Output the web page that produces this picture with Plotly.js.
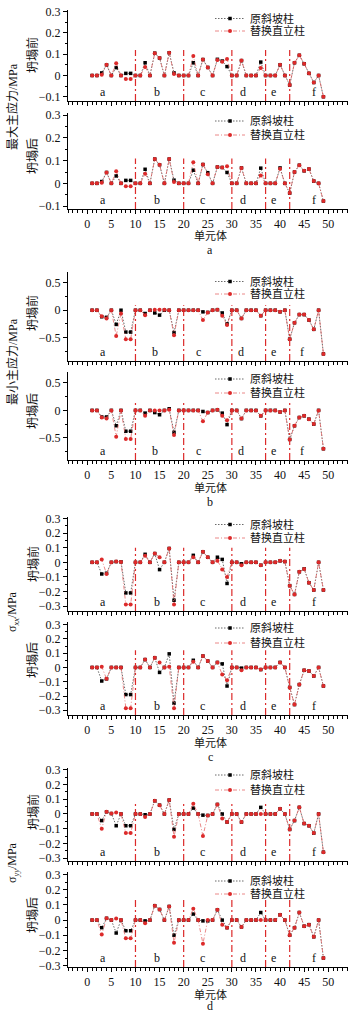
<!DOCTYPE html>
<html><head><meta charset="utf-8">
<script src="https://cdn.plot.ly/plotly-3.0.1.min.js"></script>
<style>html,body{margin:0;padding:0;background:#fff;}#chart{width:356px;height:1013px;}</style>
</head><body><div id="chart"></div>
<script>
// ---------- data ----------
const unitIds = [1,2,3,4,5,6,7,8,9,10,11,12,13,14,15,16,17,18,19,20,21,22,23,24,25,26,27,28,29,30,31,32,33,34,35,36,37,38,39,40,41,42,43,44,45,46,47,48,49];
const seriesNames = ['原斜坡柱', '替换直立柱'];
const segmentBounds = [10, 20, 30, 37, 42];
const segmentLabels = ['a', 'b', 'c', 'd', 'e', 'f'];
const stateLabels = ['坍塌前', '坍塌后'];
const groupTitles = ['最大主应力/MPa', '最小主应力/MPa', 'σ<sub><i>xx</i></sub>/MPa', 'σ<sub><i>yy</i></sub>/MPa'];
const groupCaptions = ['a', 'b', 'c', 'd'];
const xTitle = '单元体';

// (a) maximum principal stress
const maxBeforeOrig = [0,0,0.012,0.05,0,0.037,0,0.01,0.01,0, 0,0.06,0,0.105,0.082,0,0.107,0.012,0,0, 0,0.06,0,0.075,0.038,0,0.076,0.068,0.042,0, 0,0.07,0,0,0,0.063,0,0,0,0.05, 0,-0.045,0.06,0.095,0.055,0.01,-0.033,0,-0.1];
const maxBeforeRepl = [0,0,0.003,0.05,0,0.057,0,-0.017,-0.017,0, 0,0.04,0,0.105,0.082,0,0.107,0.007,0,0, 0,0.092,0,0.075,0.038,0,0.073,0.065,0.078,0, 0,0.07,0,0,0,0.035,0,0,0,0.05, 0,-0.045,0.06,0.095,0.055,0.01,-0.033,0,-0.1];
const maxAfterOrig = [0,0,0.008,0.048,0,0.033,0,0.013,0.013,0, 0,0.062,0,0.107,0.082,0,0.107,0.014,0,0, 0,0.058,0,0.083,0.047,0,0.072,0.07,0.048,0, 0,0.068,0,0,0,0.067,0,0,0,0.068, 0,-0.043,0.05,0.08,0.055,0.063,0.01,0,-0.078];
const maxAfterRepl = [0,0,0.003,0.048,0,0.053,0,-0.013,-0.013,0, 0,0.042,0,0.107,0.082,0,0.107,0.006,0,0, 0,0.093,0,0.083,0.04,0,0.072,0.07,0.075,0, 0,0.068,0,0,0,0.035,0,0,0,0.064, 0,-0.043,0.05,0.08,0.055,0.063,0.01,0,-0.078];
// (b) minimum principal stress
const minBeforeOrig = [0,0,-0.12,-0.13,0,-0.26,0,-0.4,-0.4,0, 0,-0.06,0,-0.05,-0.09,0,0,-0.41,0,0, 0,0,0,-0.03,-0.04,0,0.01,-0.05,-0.25,0, 0,-0.15,0,0,0,-0.1,0,0,0,-0.03, 0,-0.53,-0.23,-0.08,-0.08,-0.18,-0.35,0,-0.8];
const minBeforeRepl = [0,0,-0.11,-0.15,0,-0.47,-0.06,-0.53,-0.53,0, 0,-0.09,0,0.01,0.01,0.01,0,-0.46,0,0, 0,0,0,-0.18,-0.04,0,0.01,-0.1,-0.27,0, 0,-0.15,0,0,0,-0.1,0,0,0,-0.03, 0,-0.53,-0.23,-0.08,-0.08,-0.18,-0.35,0,-0.8];
const minAfterOrig = [0,0,-0.12,-0.12,0,-0.28,0,-0.38,-0.38,0, 0,-0.05,0,-0.04,-0.08,0,0.03,-0.4,0,0, 0,0,0,-0.02,-0.04,0,0.01,-0.05,-0.26,0, 0,-0.15,0,0,0,-0.1,0,0,0,-0.03, 0,-0.53,-0.28,-0.13,-0.1,-0.16,-0.25,0,-0.7];
const minAfterRepl = [0,0,-0.13,-0.15,0,-0.48,0,-0.52,-0.52,0, 0,-0.1,0,0,0,0,0.01,-0.45,0,0, 0,0,0,-0.2,-0.04,0,0.01,-0.1,-0.18,0, 0,-0.15,0,0,0,-0.1,0,0,0,-0.03, 0,-0.53,-0.28,-0.13,-0.1,-0.16,-0.25,0,-0.7];
// (c) sigma_xx
const sxxBeforeOrig = [0,0,-0.08,-0.075,0,0.005,0.003,-0.21,-0.21,0, 0,0.055,0,0.06,-0.05,0,0.095,-0.26,0,0, 0,0.048,0,0.072,0.035,0,0.035,0.02,-0.145,0, 0,-0.01,0,0,0,-0.02,0,0,0,0.01, 0.005,-0.16,-0.22,-0.065,-0.045,-0.14,-0.19,0,-0.19];
const sxxBeforeRepl = [0,0,0.02,-0.08,0,0.005,0.003,-0.29,-0.29,0, 0,0.045,0,0.06,0.035,0,0.095,-0.29,0,0, 0,0.035,0,0.072,0.035,0,0.01,-0.05,-0.1,0, 0,-0.02,0,0,0,-0.02,0,0,0,0.01, 0.005,-0.16,-0.22,-0.065,-0.045,-0.14,-0.19,0,-0.19];
const sxxAfterOrig = [0,0,-0.095,-0.08,0,0,0,-0.19,-0.19,0, 0,0.055,0,0.068,-0.035,0,0.095,-0.25,0,0, 0,0.05,0,0.08,0.045,0,0.035,0.025,-0.13,0, 0,-0.005,0,0,0,-0.015,0,0,0,0.035, 0,-0.14,-0.26,-0.12,-0.02,-0.025,-0.06,0,-0.13];
const sxxAfterRepl = [0,0,0.005,-0.08,0,0,0,-0.285,-0.285,0, 0,0.055,0,0.068,0.035,0,0.005,-0.285,0,0, 0,0.04,0,0.08,0.045,0,0.035,-0.05,-0.09,0, 0,-0.02,0,0,0,-0.015,0,0,0,0.035, 0,-0.14,-0.26,-0.12,-0.02,-0.025,-0.06,0,-0.13];
// (d) sigma_yy
const syyBeforeOrig = [0,0,-0.045,0.015,0.003,-0.08,0,-0.08,-0.08,0, 0,-0.005,0,0.09,0.06,0,0.095,-0.105,0,0, 0,0.04,0,-0.008,-0.01,0,0.065,0,-0.055,0, 0,-0.055,0,0,0,0.045,0,0,0,0.035, 0,-0.105,-0.045,0.045,-0.065,-0.08,-0.13,0,-0.26];
const syyBeforeRepl = [0,0,-0.1,0.015,0.003,0.01,0,-0.13,-0.13,0, 0,-0.02,0,0.09,0.06,0,0.095,-0.155,0,0, 0,0.07,0,-0.15,-0.01,0,0.065,-0.03,-0.055,0, 0,-0.055,0,0,0,0,0,0,0,0.035, 0,-0.105,-0.045,0.045,-0.065,-0.08,-0.13,0,-0.26];
const syyAfterOrig = [0,0,-0.05,0.012,0,-0.085,0,-0.07,-0.07,0, 0,-0.005,0,0.095,0.07,0,0.09,-0.1,0,0, 0,0.04,0,-0.005,-0.005,0,0.068,0,-0.05,0, 0,-0.045,0,0,0,0.05,0,0,0,0.035, 0,-0.1,-0.05,0.05,-0.04,-0.03,-0.11,0,-0.25];
const syyAfterRepl = [0,0,-0.095,0.012,0,0.01,0,-0.12,-0.12,0, 0,-0.02,0,0.095,0.07,0,0.09,-0.15,0,0, 0,0.075,0,-0.155,0,0,0.068,-0.03,-0.05,0, 0,-0.045,0,0,0,0,0,0,0,0.035, 0,-0.1,-0.05,0.05,-0.04,-0.03,-0.11,0,-0.25];

// ---------- layout geometry (pixels) ----------
const H = 1013, W = 356, ML = 68, MR = 8, PW = W - ML - MR;
const py = p => 1 - p / H;           // pixel row -> paper y
const pxX = p => (p - ML) / PW;      // pixel col -> paper x

const panels = [
  {orig: maxBeforeOrig, repl: maxBeforeRepl, top: 10,  bot: 101, range: [-0.12, 0.308], dt: 0.1, mdt: 0.05, vtop: 0.12, leg: [18.5, 31]},
  {orig: maxAfterOrig,  repl: maxAfterRepl,  top: 113, bot: 209, range: [-0.113, 0.31], dt: 0.1, mdt: 0.05, vtop: 0.11, leg: [121, 135]},
  {orig: minBeforeOrig, repl: minBeforeRepl, top: 272, bot: 361, range: [-0.93, 0.70], dt: 0.5, mdt: 0.25, vtop: 0.09, leg: [281.5, 294]},
  {orig: minAfterOrig,  repl: minAfterRepl,  top: 372, bot: 460, range: [-0.905, 0.70], dt: 0.5, mdt: 0.25, vtop: 0.18, leg: [379, 393]},
  {orig: sxxBeforeOrig, repl: sxxBeforeRepl, top: 517, bot: 611, range: [-0.334, 0.311], dt: 0.1, mdt: 0.05, vtop: 0.10, leg: [524.5, 538]},
  {orig: sxxAfterOrig,  repl: sxxAfterRepl,  top: 622, bot: 715, range: [-0.333, 0.318], dt: 0.1, mdt: 0.05, vtop: 0.12, leg: [628, 643]},
  {orig: syyBeforeOrig, repl: syyBeforeRepl, top: 768, bot: 861, range: [-0.32, 0.313], dt: 0.1, mdt: 0.05, vtop: 0.085, leg: [775, 790]},
  {orig: syyAfterOrig,  repl: syyAfterRepl,  top: 872, bot: 967, range: [-0.309, 0.317], dt: 0.1, mdt: 0.05, vtop: 0.135, leg: [881, 894]}
];
const groups = [
  {titleY: 107, capY: [236, 250], subY: [55, 156], letterX: [3.3, 14.5, 24, 32.3, 38.6, 47]},
  {titleY: 362, capY: [488, 502], subY: [313, 411], letterX: [3.2, 14.1, 23, 32, 38.7, 44.6]},
  {titleY: 612, capY: [742, 757], subY: [564, 660], letterX: [3.3, 14.5, 24, 32.3, 38.6, 47]},
  {titleY: 863, capY: [994, 1006], subY: [812, 915], letterX: [3.3, 14.5, 24, 32.3, 38.6, 47]}
];

const SERIF = 'Liberation Serif, Noto Sans CJK SC, serif';
const CJK = 'Liberation Serif, Noto Sans CJK SC, sans-serif';
const RED = '#dc2a2a';

const traces = [], shapes = [], annotations = [];
const layout = {
  width: W, height: H, margin: {l: ML, r: MR, t: 0, b: 0, pad: 0},
  paper_bgcolor: '#fff', plot_bgcolor: 'rgba(0,0,0,0)',
  font: {family: SERIF, size: 12, color: '#111'},
  showlegend: true
};

panels.forEach((p, i) => {
  const n = i + 1;
  const xk = n === 1 ? 'xaxis' : 'xaxis' + n;
  const yk = n === 1 ? 'yaxis' : 'yaxis' + n;
  const xr = n === 1 ? 'x' : 'x' + n;
  const yr = n === 1 ? 'y' : 'y' + n;
  const isBottom = (i % 2) === 1;
  const legA = 'legend' + (2 * i + 1 === 1 ? '' : (2 * i + 1));
  const legB = 'legend' + (2 * i + 2);

  traces.push({
    x: unitIds, y: p.orig, xaxis: xr, yaxis: yr, type: 'scatter', mode: 'lines+markers',
    name: seriesNames[0], legend: legA,
    line: {color: '#444', width: 0.8, dash: '1.5px,1.5px'},
    marker: {symbol: 'square', size: 3.5, color: '#000'}
  });
  traces.push({
    x: unitIds, y: p.repl, xaxis: xr, yaxis: yr, type: 'scatter', mode: 'lines+markers',
    name: seriesNames[1], legend: legB,
    line: {color: '#e46a6a', width: 0.8, dash: '4px,2px,1px,2px'},
    marker: {symbol: 'circle', size: 4, color: RED}
  });

  layout[xk] = {
    domain: [0, 1], anchor: yr, range: [-4, 54.1], showgrid: false, zeroline: false,
    showline: true, linecolor: '#000', linewidth: 1,
    tickmode: 'linear', tick0: 0, dtick: 5, ticks: 'outside', ticklen: 4, tickwidth: 1, tickcolor: '#000',
    showticklabels: isBottom, tickfont: {family: SERIF, size: 12, color: '#111'},
    minor: {dtick: 1, tick0: 0, ticks: 'outside', ticklen: 2.5, tickwidth: 1, tickcolor: '#000'}
  };
  layout[yk] = {
    domain: [py(p.bot), py(p.top)], anchor: xr, range: p.range, showgrid: false, zeroline: false,
    showline: true, linecolor: '#000', linewidth: 1,
    tickmode: 'linear', tick0: 0, dtick: p.dt, ticks: 'outside', ticklen: 4, tickwidth: 1, tickcolor: '#000',
    tickfont: {family: SERIF, size: 12, color: '#111'},
    minor: {dtick: p.mdt, tick0: 0, ticks: 'outside', ticklen: 2, tickwidth: 1, tickcolor: '#000'}
  };

  // legends: one row each
  [legA, legB].forEach((lk, k) => {
    layout[lk] = {
      x: pxX(210), xanchor: 'left', xref: 'paper',
      y: py(p.leg[k]), yanchor: 'middle', yref: 'paper',
      bgcolor: 'rgba(0,0,0,0)', borderwidth: 0,
      font: {family: CJK, size: 11, color: '#111'}, itemwidth: 30
    };
  });

  // segment boundary lines
  segmentBounds.forEach(b => {
    shapes.push({type: 'line', xref: xr, yref: yr, x0: b, x1: b, y0: p.range[0], y1: p.vtop,
      line: {color: RED, width: 1.2, dash: '7px,3px,2px,3px'}});
  });

  // segment letters
  const g = groups[Math.floor(i / 2)];
  segmentLabels.forEach((s, k) => {
    annotations.push({text: s, xref: xr, yref: yr + ' domain', x: g.letterX[k], y: 0,
      xanchor: 'center', yanchor: 'bottom', yshift: 0, showarrow: false,
      font: {family: SERIF, size: 12, color: '#111'}});
  });
});

// group titles and captions
groups.forEach((g, gi) => {
  annotations.push({text: groupTitles[gi], xref: 'paper', yref: 'paper', x: pxX(13), y: py(g.titleY),
    xanchor: 'center', yanchor: 'middle', textangle: -90, showarrow: false,
    font: {family: CJK, size: 12, color: '#111'}});
  stateLabels.forEach((s, k) => {
    annotations.push({text: s, xref: 'paper', yref: 'paper', x: pxX(33), y: py(g.subY[k]),
      xanchor: 'center', yanchor: 'middle', textangle: -90, showarrow: false,
      font: {family: CJK, size: 12, color: '#111'}});
  });
  annotations.push({text: xTitle, xref: 'paper', yref: 'paper', x: pxX(210), y: py(g.capY[0]),
    xanchor: 'center', yanchor: 'middle', showarrow: false, font: {family: CJK, size: 11, color: '#111'}});
  annotations.push({text: groupCaptions[gi], xref: 'paper', yref: 'paper', x: pxX(210), y: py(g.capY[1]),
    xanchor: 'center', yanchor: 'middle', showarrow: false, font: {family: SERIF, size: 12, color: '#111'}});
});

layout.shapes = shapes;
layout.annotations = annotations;

Plotly.newPlot('chart', traces, layout, {displayModeBar: false, staticPlot: true});
</script>
</body></html>
